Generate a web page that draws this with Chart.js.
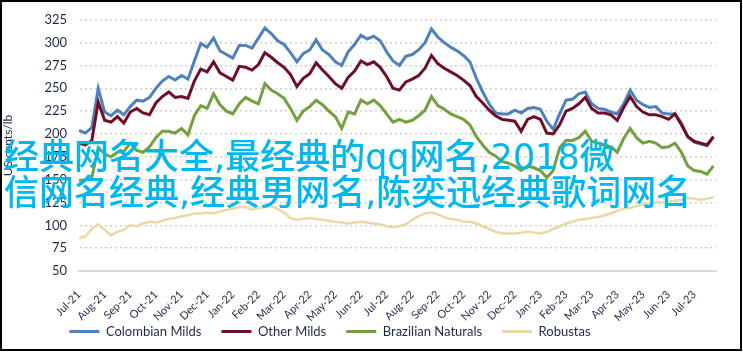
<!doctype html>
<html lang="zh">
  <head>
    <meta charset="UTF-8" />
    <title>Coffee prices</title>
    <script src="https://cdn.jsdelivr.net/npm/chart.js"></script>
    <style>
      body {
        margin: 0;
        background: #fff;
      }
      .wrap {
        position: relative;
        width: 743px;
        height: 352px;
        overflow: hidden;
      }
      .wrap canvas {
        position: absolute;
        left: 0;
        top: 0;
      }
      .frame {
        position: absolute;
        left: 0;
        top: 0;
        width: 742px;
        height: 351px;
        box-sizing: border-box;
        border: 2px solid #000;
        pointer-events: none;
      }
      .overlay {
        position: absolute;
        left: 4px;
        top: 139px;
        font-family: 'DejaVu Sans', 'Noto Sans CJK SC', sans-serif;
        font-size: 35px;
        font-weight: 500;
        line-height: 36px;
        color: #00b7ef;
        white-space: nowrap;
        pointer-events: none;
      }
    </style>
  </head>
  <body>
    <div class="wrap">
      <canvas id="chart" width="743" height="352"></canvas>
      <div class="overlay">经典网名大全,最经典的qq网名,2018微<br />信网名经典,经典男网名,陈奕迅经典歌词网名</div>
      <div class="frame"></div>
    </div>

    <script>
      // months from Jul-21, one value every quarter month
      const monthLabels = [
        'Jul-21', 'Aug-21', 'Sep-21', 'Oct-21', 'Nov-21', 'Dec-21', 'Jan-22',
        'Feb-22', 'Mar-22', 'Apr-22', 'May-22', 'Jun-22', 'Jul-22', 'Aug-22',
        'Sep-22', 'Oct-22', 'Nov-22', 'Dec-22', 'Jan-23', 'Feb-23', 'Mar-23',
        'Apr-23', 'May-23', 'Jun-23', 'Jul-23',
      ];
      const step = 0.25;
      const yTicks = [50, 75, 100, 125, 150, 175, 200, 225, 250, 275, 300, 325];

      const colombianMilds = [
        204, 201, 207, 250, 224, 220, 226, 221, 230, 237,
        236, 240, 250, 258, 263, 259, 264, 260, 280, 299,
        295, 305, 291, 287, 283, 297, 297, 294, 305, 316,
        310, 302, 298, 289, 279, 288, 292, 303, 292, 287,
        279, 275, 290, 298, 308, 304, 307, 302, 290, 280,
        275, 285, 287, 292, 300, 315, 306, 300, 295, 291,
        286, 279, 261, 246, 233, 223, 222, 222, 226, 223,
        228, 229, 227, 214, 205, 222, 237, 238, 244, 246,
        233, 228, 227, 224, 222, 233, 248, 237, 232, 229,
        230, 223, 222, 222, 212, 197, 191, 189, 187, 197,
      ];
      const otherMilds = [
        190, 188, 193, 235, 215, 213, 219, 212, 224, 228,
        223, 221, 234, 241, 246, 240, 241, 239, 258, 271,
        268, 279, 267, 263, 259, 274, 273, 270, 276, 289,
        284, 278, 273, 265, 252, 261, 266, 278, 270, 263,
        255, 250, 262, 269, 280, 276, 279, 273, 263, 250,
        248, 257, 260, 264, 272, 286, 277, 272, 268, 264,
        259, 253, 241, 234, 226, 220, 216, 215, 214, 203,
        216, 219, 216, 201, 200, 210, 225, 228, 233, 240,
        228, 223, 223, 221, 215, 229, 241, 230, 224, 221,
        221, 219, 216, 222, 210, 197, 192, 190, 188, 197,
      ];
      const brazilianNaturals = [
        149, 150, 152, 185, 178, 175, 180, 181, 190, 182,
        180, 186, 196, 203, 203, 201, 206, 199, 220, 231,
        228, 244, 232, 225, 222, 233, 240, 236, 233, 255,
        248, 244, 239, 228, 215, 225, 230, 237, 232, 225,
        219, 206, 224, 222, 237, 233, 237, 231, 222, 213,
        216, 213, 215, 220, 226, 241, 231, 227, 222, 219,
        216, 210, 197, 188, 180, 176, 170, 168, 165, 160,
        165, 163, 160, 152, 160, 185, 193, 193, 196, 203,
        192, 190, 188, 186, 180, 195, 206, 196, 190, 192,
        190, 185, 186, 190, 180, 165, 160, 159, 156, 165,
      ];
      const robustas = [
        86, 88, 96, 101, 95, 89, 93, 95, 100, 99,
        102, 104, 103, 105, 107, 108, 110, 111, 113, 113,
        114, 113, 115, 117, 118, 120, 120, 117, 119, 120,
        121, 118, 114, 108, 106, 107, 108, 107, 106, 105,
        104, 103, 102, 103, 104, 103, 102, 101, 99, 98,
        99, 101, 106, 110, 113, 114, 112, 109, 107, 106,
        104, 104, 102, 99, 96, 93, 91, 91, 91, 92,
        93, 92, 91, 93, 96, 99, 102, 104, 106, 107,
        108, 109, 111, 113, 116, 118, 119, 121, 123, 124,
        125, 125, 126, 127, 128, 130, 129, 128, 129, 131,
      ];

      const textColor = '#1f2a44';
      const toPoints = (arr) => arr.map((v, i) => ({ x: i * step, y: v }));

      function series(label, data, color, width, order) {
        return {
          label: label,
          data: toPoints(data),
          borderColor: color,
          backgroundColor: color,
          borderWidth: width,
          pointRadius: 0,
          tension: 0,
          order: order,
        };
      }

      // the legend in the original sits left of centre and close under the dates
      const legendShift = {
        id: 'legendShift',
        beforeDraw(chart) {
          chart.legend.right = chart.legend.left + 660;
          chart.legend.top = chart.scales.x.top + 34;
        },
      };

      new Chart(document.getElementById('chart'), {
        type: 'line',
        data: {
          datasets: [
            series('Colombian Milds', colombianMilds, '#4f81bd', 3, 4),
            series('Other Milds', otherMilds, '#700d27', 3, 3),
            series('Brazilian Naturals', brazilianNaturals, '#74a03f', 3, 2),
            series('Robustas', robustas, '#ead8a6', 2.5, 1),
          ],
        },
        options: {
          responsive: false,
          animation: false,
          layout: { padding: { top: 16, right: 27, bottom: -12, left: 0 } },
          plugins: {
            tooltip: { enabled: false },
            legend: {
              position: 'bottom',
              labels: {
                color: textColor,
                font: { family: 'Lato', size: 13 },
                boxWidth: 30,
                boxHeight: 3,
                padding: 20,
                sort: (a, b) => a.datasetIndex - b.datasetIndex,
                generateLabels: (chart) =>
                  chart.data.datasets.map((ds, i) => ({
                    text: ds.label,
                    fillStyle: ds.borderColor,
                    strokeStyle: ds.borderColor,
                    lineWidth: 0,
                    fontColor: textColor,
                    datasetIndex: i,
                  })),
              },
            },
          },
          scales: {
            x: {
              type: 'linear',
              min: 0,
              max: 24.85,
              grid: { display: false },
              border: { display: true, color: '#d9d9d9', width: 2 },
              ticks: {
                stepSize: 1,
                autoSkip: false,
                includeBounds: false,
                minRotation: 45,
                maxRotation: 45,
                padding: 9,
                color: textColor,
                font: { family: 'Lato', size: 11 },
                callback: (v) => monthLabels[v],
              },
              afterFit: (scale) => {
                scale.height = 50;
              },
            },
            y: {
              min: yTicks[0],
              max: yTicks[yTicks.length - 1],
              afterBuildTicks: (scale) => {
                scale.ticks = yTicks.map((v) => ({ value: v }));
              },
              grid: {
                color: (ctx) => (ctx.tick.value === 50 ? 'rgba(0,0,0,0)' : '#cfcfcf'),
                lineWidth: 1.5,
                drawTicks: false,
                borderDash: [2, 3],
              },
              border: { display: true, color: 'rgba(0,0,0,0)', dash: [2, 3] },
              ticks: {
                padding: 12,
                color: textColor,
                font: { family: 'Lato', size: 13 },
              },
              title: {
                display: true,
                text: 'US cents/lb',
                color: textColor,
                font: { family: 'Lato', size: 12 },
                padding: { top: 1, bottom: 0 },
              },
              afterFit: (scale) => {
                scale.width = 79;
              },
            },
          },
        },
        plugins: [legendShift],
      });
    </script>
  </body>
</html>
